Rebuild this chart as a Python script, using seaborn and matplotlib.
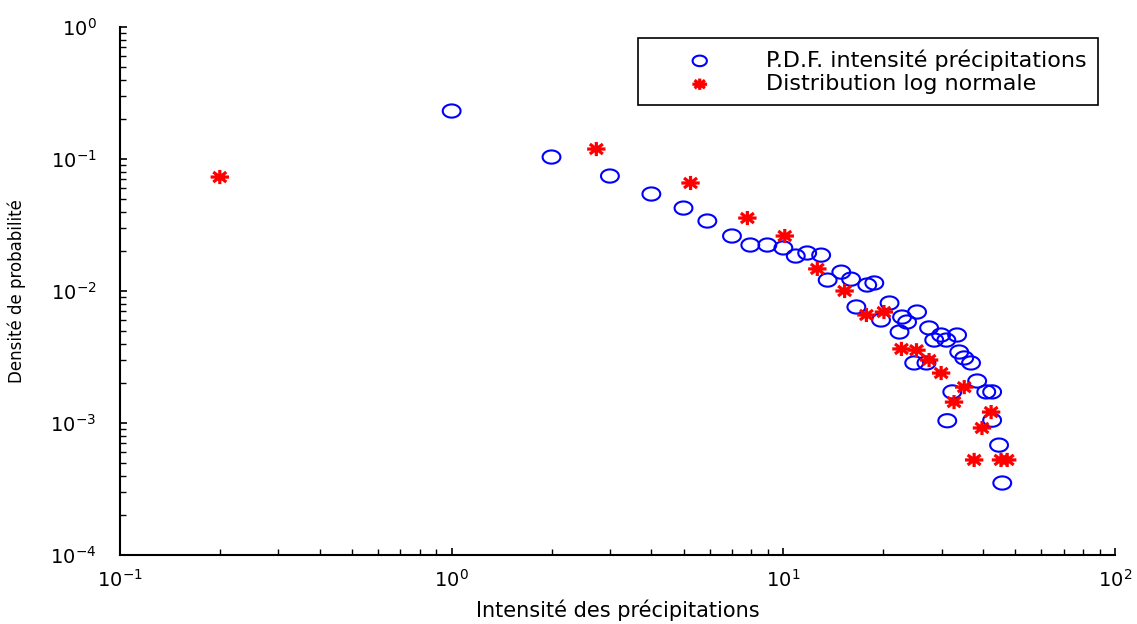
import numpy as np
import matplotlib
matplotlib.use("Agg")
import matplotlib.pyplot as plt
from matplotlib.path import Path
import seaborn as sns

# Values (log-log axes)
pdf_x = [1.0, 2.0, 3.0, 4.0, 5.0, 5.9, 7.0, 7.95, 8.95, 10.0,
         10.9, 11.8, 13.0, 13.6, 14.95, 16.0, 16.6, 17.9, 18.8, 19.7,
         20.9, 22.4, 22.8, 23.6, 24.8, 25.3, 27.0, 27.5, 28.5, 29.9,
         31.0, 31.2, 32.3, 33.4, 33.9, 35.1, 36.8, 38.4, 40.9, 42.6,
         42.6, 44.7, 45.7]
pdf_y = [0.231, 0.1035, 0.0743, 0.0543, 0.0425, 0.0339, 0.0261, 0.0223, 0.0223, 0.0212,
         0.0184, 0.0194, 0.0187, 0.0121, 0.0139, 0.0123, 0.00757, 0.0111, 0.0115, 0.00603,
         0.00811, 0.00489, 0.00635, 0.00582, 0.00285, 0.00693, 0.00285, 0.00525, 0.00425, 0.00464,
         0.00425, 0.00104, 0.00172, 0.00464, 0.00345, 0.00311, 0.00285, 0.00208, 0.00172, 0.00172,
         0.00105, 0.00068, 0.000351]

lognorm_x = [0.2, 2.73, 5.25, 7.79, 10.1, 12.66, 15.3, 17.8, 20.1, 22.7,
             25.2, 27.5, 29.9, 32.7, 35.1, 37.6, 39.7, 42.3, 45.3, 47.3]
lognorm_y = [0.073, 0.119, 0.0658, 0.0357, 0.0261, 0.0147, 0.0100, 0.00658, 0.00693, 0.00364,
             0.00356, 0.0030, 0.00239, 0.00144, 0.00187, 0.000525, 0.000917, 0.00121, 0.000525, 0.000525]

label_pdf = "P.D.F. intensité précipitations"
label_lognorm = "Distribution log normale"

sns.set_theme(style="ticks")
plt.rcParams["font.family"] = ["DejaVu Sans"]
plt.rcParams["text.color"] = "black"
plt.rcParams["axes.labelcolor"] = "black"

# The reference is stretched sideways, so the markers are a bit wider than tall
t = np.linspace(0, 2 * np.pi, 40)
ellipse = Path(np.column_stack([1.35 * np.cos(t), np.sin(t)]), closed=True)

star_verts = []
star_codes = []
for a in np.deg2rad([0, 45, 90, 135]):
    dx, dy = 1.3 * np.cos(a), np.sin(a)
    star_verts += [(-dx, -dy), (dx, dy)]
    star_codes += [Path.MOVETO, Path.LINETO]
asterisk = Path(star_verts, star_codes)

fig = plt.figure(figsize=(11.37, 6.24), dpi=100)
ax = fig.add_axes([0.1055, 0.1106, 0.8752, 0.8461])

sns.scatterplot(x=pdf_x, y=pdf_y, ax=ax, marker=ellipse, s=165,
                facecolor="none", edgecolor="#0000ff", linewidth=1.5,
                label=label_pdf, zorder=3)
sns.scatterplot(x=lognorm_x, y=lognorm_y, ax=ax, marker=asterisk, s=175,
                facecolor="none", edgecolor="#ff0000", linewidth=2.3,
                label=label_lognorm, zorder=4)

ax.set_xscale("log")
ax.set_yscale("log")
ax.set_xlim(0.1, 100)
ax.set_ylim(1e-4, 1)

# Only left and bottom axis lines, like the original
ax.spines["top"].set_visible(False)
ax.spines["right"].set_visible(False)
for side in ["left", "bottom"]:
    ax.spines[side].set_color("black")
    ax.spines[side].set_linewidth(1.5)

ax.tick_params(axis="both", which="both", direction="in", colors="black")
ax.tick_params(axis="both", which="major", length=5, width=1.2, labelsize=14)
ax.tick_params(axis="both", which="minor", length=4, width=1.0)
ax.tick_params(axis="x", which="major", pad=10)
ax.tick_params(axis="y", which="major", pad=17)

ax.set_xlabel("Intensité des précipitations", fontsize=15, labelpad=6, color="black")
ax.set_ylabel("Densité de probabilité", fontsize=12, labelpad=17, color="black")

leg = ax.legend(loc="upper right", bbox_to_anchor=(0.983, 0.979), fontsize=16,
                frameon=True, fancybox=False, framealpha=1, edgecolor="black",
                borderaxespad=0, handlelength=4.6, handletextpad=0.7,
                labelspacing=0.15, borderpad=0.5, markerscale=0.8,
                labelcolor="black")
leg.get_frame().set_linewidth(1.2)

fig.savefig("out.png", dpi=100, facecolor="white")
